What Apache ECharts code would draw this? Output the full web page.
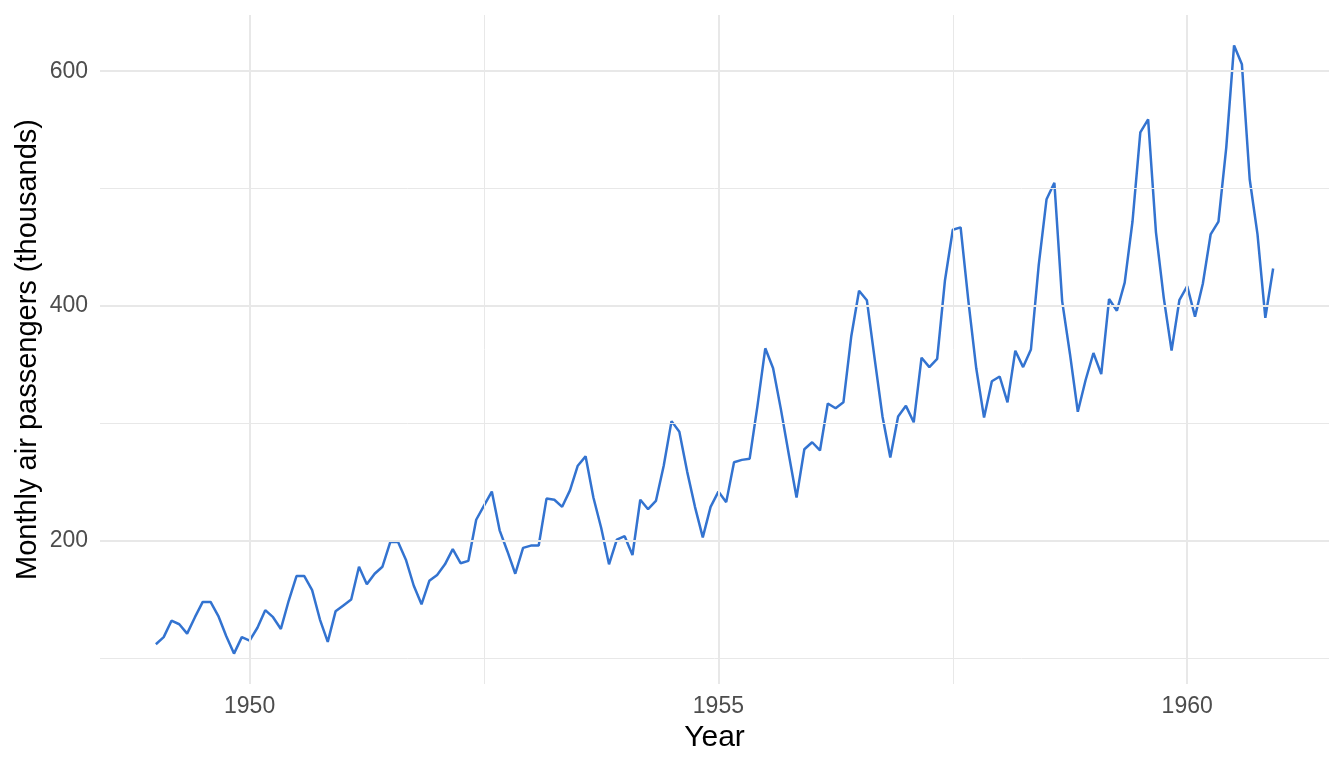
<!DOCTYPE html>
<html>
<head>
<meta charset="utf-8">
<script src="https://cdn.jsdelivr.net/npm/echarts@6/dist/echarts.min.js"></script>
<style>
html, body { margin: 0; padding: 0; background: #fff; }
#mychart { width: 1344px; height: 768px; }
</style>
</head>
<body>
<div id="mychart"></div>
<script>
"use strict";
// monthly totals, Jan..Dec, one row per year
const years = [1949, 1950, 1951, 1952, 1953, 1954, 1955, 1956, 1957, 1958, 1959, 1960];
const passengers = [
    [112, 118, 132, 129, 121, 135, 148, 148, 136, 119, 104, 118],
    [115, 126, 141, 135, 125, 149, 170, 170, 158, 133, 114, 140],
    [145, 150, 178, 163, 172, 178, 199, 199, 184, 162, 146, 166],
    [171, 180, 193, 181, 183, 218, 230, 242, 209, 191, 172, 194],
    [196, 196, 236, 235, 229, 243, 264, 272, 237, 211, 180, 201],
    [204, 188, 235, 227, 234, 264, 302, 293, 259, 229, 203, 229],
    [242, 233, 267, 269, 270, 315, 364, 347, 312, 274, 237, 278],
    [284, 277, 317, 313, 318, 374, 413, 405, 355, 306, 271, 306],
    [315, 301, 356, 348, 355, 422, 465, 467, 404, 347, 305, 336],
    [340, 318, 362, 348, 363, 435, 491, 505, 404, 359, 310, 337],
    [360, 342, 406, 396, 420, 472, 548, 559, 463, 407, 362, 405],
    [417, 391, 419, 461, 472, 535, 622, 606, 508, 461, 390, 432]
];
const xTicks = [1950, 1955, 1960];
const xMinor = [1952.5, 1957.5];
const yTicks = [200, 400, 600];
const yMinor = [100, 300, 500];

const series = [];
years.forEach((yr, i) => {
    passengers[i].forEach((v, m) => {
        series.push([yr + m / 12, v]);
    });
});

// ggplot-style 5% expansion
const xs = series.map(p => p[0]);
const ys = series.map(p => p[1]);
const xMin = Math.min(...xs), xMax = Math.max(...xs);
const yMin = Math.min(...ys), yMax = Math.max(...ys);
const xPad = (xMax - xMin) * 0.05, yPad = (yMax - yMin) * 0.05;

const gridColor = '#E8E8E8';
function gridLines(key, vals, width) {
    return vals.map(v => ({ [key]: v, lineStyle: { color: gridColor, width: width, type: 'solid' } }));
}

const container = document.getElementById('mychart');
const myChart = echarts.init(container);
const option = {
    animation: false,
    textStyle: { fontFamily: 'Liberation Sans, Arial, sans-serif' },
    grid: { left: 100, right: 15, top: 15, bottom: 84, containLabel: false },
    xAxis: {
        type: 'value',
        min: xMin - xPad,
        max: xMax + xPad,
        name: 'Year',
        nameLocation: 'middle',
        nameGap: 39,
        nameMoveOverlap: false,
        nameTextStyle: { fontSize: 30, color: '#000' },
        axisLine: { show: false },
        axisTick: { show: false },
        splitLine: { show: false },
        axisLabel: {
            customValues: xTicks,
            fontSize: 23,
            color: '#4D4D4D',
            margin: 11,
            formatter: v => String(v)
        }
    },
    yAxis: {
        type: 'value',
        min: yMin - yPad,
        max: yMax + yPad,
        name: 'Monthly air passengers (thousands)',
        nameLocation: 'middle',
        nameGap: 58,
        nameMoveOverlap: false,
        nameTextStyle: { fontSize: 29, color: '#000' },
        axisLine: { show: false },
        axisTick: { show: false },
        splitLine: { show: false },
        axisLabel: {
            customValues: yTicks,
            fontSize: 23,
            color: '#4D4D4D',
            margin: 12
        }
    },
    series: [
        {
            type: 'line',
            z: 1,
            data: [],
            silent: true,
            markLine: {
                silent: true,
                symbol: 'none',
                label: { show: false },
                animation: false,
                data: [].concat(
                    gridLines('xAxis', xMinor, 1),
                    gridLines('yAxis', yMinor, 1),
                    gridLines('xAxis', xTicks, 2),
                    gridLines('yAxis', yTicks, 2)
                )
            }
        },
        {
            type: 'line',
            z: 3,
            data: series,
            showSymbol: false,
            lineStyle: { color: '#3373D0', width: 2.5 },
            itemStyle: { color: '#3373D0' }
        }
    ]
};
myChart.setOption(option);
</script>
</body>
</html>
